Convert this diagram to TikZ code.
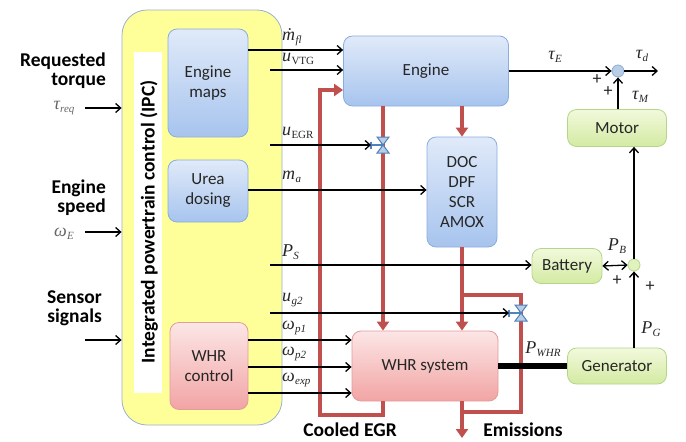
\documentclass[tikz,border=0pt]{standalone}
\usepackage{fontspec}
\setmainfont{Carlito}
\newfontfamily\lserif{Liberation Serif}
\usetikzlibrary{arrows.meta}
\newcommand\svi[2]{{\lserif\itshape #1}\kern0.3pt\raisebox{-3.5pt}{\lserif\itshape\fontsize{11}{11}\selectfont #2}}
\newcommand\svu[2]{{\lserif\itshape #1}\kern0.3pt\raisebox{-3.5pt}{\lserif\fontsize{11}{11}\selectfont #2}}
\definecolor{ipcfill}{HTML}{FFFF99}
\definecolor{ipcedge}{HTML}{9BB0CF}
\definecolor{btop}{HTML}{E0EAF9}
\definecolor{bbot}{HTML}{A7C4EE}
\definecolor{bedge}{HTML}{8AAEDC}
\definecolor{rtop}{HTML}{FCE6E6}
\definecolor{rbot}{HTML}{F2A4A4}
\definecolor{redge}{HTML}{E39B9B}
\definecolor{gtop}{HTML}{F2F9DC}
\definecolor{gbot}{HTML}{D3EAA2}
\definecolor{gedge}{HTML}{B5D68A}
\definecolor{pipered}{HTML}{C0504D}
\definecolor{vblue}{HTML}{4F81BD}
\definecolor{vfill}{HTML}{B9CDE5}
\definecolor{txt}{HTML}{262626}
\tikzset{
  box/.style={rounded corners=9pt, line width=0.8pt, inner sep=0pt, align=center,
    font=\fontsize{17}{20}\selectfont, text=txt},
  bluebox/.style={box, draw=bedge, top color=btop, bottom color=bbot},
  redbox/.style={box, draw=redge, top color=rtop, bottom color=rbot},
  greenbox/.style={box, draw=gedge, top color=gtop, bottom color=gbot},
  sig/.style={line width=1.3pt, draw=black, -{Straight Barb[length=5pt,width=9pt]}},
  pipe/.style={line width=4.5pt, draw=pipered},
  pipea/.style={pipe, -{Triangle[length=9pt,width=12pt]}},
  lab/.style={font=\fontsize{18}{18}\selectfont, text=txt, inner sep=0pt},
  boldlab/.style={font=\bfseries\fontsize{19.5}{19}\selectfont, text=black, inner sep=0pt},
  junction/.style={circle, minimum size=12pt, inner sep=0pt, line width=0.8pt},
  valve/.pic={
    \draw[vblue, line width=1.5pt] (-12,0) -- (0,0);
    \draw[vblue, line width=1.5pt] (-12,-3.5) -- (-12,3.5);
    \draw[draw=vblue, fill=vfill, line width=1pt, line join=miter]
      (-6,-8) -- (6,-8) -- (-6,8) -- (6,8) -- cycle;
  }
}
\begin{document}
\begin{tikzpicture}[x=1pt,y=-1pt]
\useasboundingbox (0,0) rectangle (686,442);

% IPC container
\node[draw=ipcedge, fill=ipcfill, rounded corners=25pt, line width=0.8pt,
  minimum width=160pt, minimum height=415pt, inner sep=0pt] (ipc) at (202,217.5) {};
\node[fill=white, minimum width=28pt, minimum height=341pt, inner sep=0pt] (strip) at (148,222) {};
\node[boldlab, rotate=90] (ipctext) at (149,222) {Integrated powertrain control (IPC)};

% blocks
\node[bluebox, minimum width=80pt, minimum height=108pt] (maps) at (208,83) {Engine\\maps};
\node[bluebox, minimum width=80pt, minimum height=62pt] (urea) at (208,191) {Urea\\dosing};
\node[redbox, minimum width=78pt, minimum height=87pt] (whrc) at (209,366) {WHR\\control};
\node[bluebox, minimum width=165pt, minimum height=70pt] (engine) at (426,71) {Engine};
\node[bluebox, minimum width=70pt, minimum height=110pt] (doc) at (462,192) {DOC\\DPF\\SCR\\AMOX};
\node[redbox, minimum width=146pt, minimum height=70pt] (whrs) at (425,366) {WHR system};
\node[greenbox, minimum width=99pt, minimum height=37pt] (motor) at (617,128) {Motor};
\node[greenbox, minimum width=70pt, minimum height=35pt] (battery) at (567,266) {Battery};
\node[greenbox, minimum width=99pt, minimum height=36pt] (gen) at (617,366) {Generator};

\node[junction, draw=bedge, fill=vfill] (tj) at (618,71) {};
\node[junction, draw=gedge, fill=gtop!50!gbot] (bj) at (634,265) {};

% red pipes
\coordinate (egrx) at (383,0);
\draw[pipea] (engine.south -| egrx) -- (whrs.north -| egrx);
\draw[pipea, line join=miter] (whrs.south -| egrx) -- (383,415) -- (320,415) -- (320,90) -- (engine.west |- 0,90);
\draw[pipea] (doc.north |- engine.south) -- (doc.north);
\draw[pipea] (doc.south) -- (whrs.north -| doc.south);
\coordinate (bypa) at (462,295);
\coordinate (bypb) at (462,412);
\draw[pipe, line join=miter] (bypa) -- (521,295) -- (521,412) -- (bypb);
\coordinate (emis) at (462,438);
\draw[pipea] (whrs.south -| emis) -- (emis);

% valves
\coordinate (v1) at (383,145);
\coordinate (v2) at (521,313);
\pic at (v1) {valve};
\pic at (v2) {valve};
\coordinate (v1in) at (371,145);
\coordinate (v2in) at (509,313);

% inputs to IPC
\coordinate (in1) at (85,108);
\coordinate (in2) at (85,232);
\coordinate (in3) at (85,340);
\draw[sig] (in1) -- (ipc.west |- in1);
\draw[sig] (in2) -- (ipc.west |- in2);
\draw[sig] (in3) -- (ipc.west |- in3);

% signals from IPC
\coordinate (o2) at (270,70);
\coordinate (o3) at (270,145);
\coordinate (o5) at (270,265);
\coordinate (o6) at (270,313);
\draw[sig] (maps.east |- 0,50) -- (engine.west |- 0,50);
\draw[sig] (o2) -- (engine.west |- o2);
\draw[sig] (o3) -- (v1in);
\draw[sig] (urea.east |- 0,190) -- (doc.west |- 0,190);
\draw[sig] (o5) -- (battery.west |- o5);
\draw[sig] (o6) -- (v2in);
\draw[sig] (whrc.east |- 0,340) -- (whrs.west |- 0,340);
\draw[sig] (whrc.east |- 0,367) -- (whrs.west |- 0,367);
\draw[sig] (whrc.east |- 0,393) -- (whrs.west |- 0,393);

% drivetrain
\coordinate (td) at (658,71);
\draw[sig] (engine.east |- tj) -- (tj.west);
\draw[sig] (tj.east) -- (td);
\draw[sig] (motor.north -| tj) -- (tj.south);
\draw[sig] (bj.north) -- (motor.south -| bj);
\draw[sig, {Straight Barb[length=5pt,width=9pt]}-{Straight Barb[length=5pt,width=9pt]}] (battery.east) -- (bj.west);
\draw[sig] (gen.north -| bj) -- (bj.south);
\draw[line width=6pt] (whrs.east) -- (gen.west);

% labels
\node[boldlab, align=right, anchor=east] (l1) at (106,71) {Requested\\torque};
\node[boldlab, align=right, anchor=east] (l2) at (106,198) {Engine\\speed};
\node[boldlab, align=right, anchor=east] (l3) at (102,308) {Sensor\\signals};
\node[lab, text=black!60] (treq) at (64,108) {\svi{τ}{req}};
\node[lab, text=black!60] (wE) at (64,234) {\svi{ω}{E}};
\node[lab, anchor=west] (a1) at (282,37) {\svi{ṁ}{fl}};
\node[lab, anchor=west] (a2) at (282,59) {\svu{u}{VTG}};
\node[lab, anchor=west] (a3) at (282,133) {\svu{u}{EGR}};
\node[lab, anchor=west] (a4) at (282,177) {\svi{m}{a}};
\node[lab, anchor=west] (a5) at (282,252) {\svi{P}{S}};
\node[lab, anchor=west] (a6) at (282,300) {\svi{u}{g2}};
\node[lab, anchor=west] (a7) at (282,328) {\svi{ω}{p1}};
\node[lab, anchor=west] (a8) at (282,354) {\svi{ω}{p2}};
\node[lab, anchor=west] (a9) at (282,380) {\svi{ω}{exp}};
\node[lab] (tE) at (555,57) {\svi{τ}{E}};
\node[lab] (tD) at (642,56) {\svi{τ}{d}};
\node[lab] (tM) at (640,97) {\svi{τ}{M}};
\node[lab] (p1) at (597,80) {+};
\node[lab] (p2) at (608,92) {+};
\node[lab] (pB) at (617,246) {\svi{P}{B}};
\node[lab] (p3) at (617,281) {+};
\node[lab] (p4) at (650,287) {+};
\node[lab] (pG) at (651,329) {\svi{P}{G}};
\node[lab] (pW) at (543,349) {\svi{P}{WHR}};
\node[boldlab] (cegr) at (350,430) {Cooled EGR};
\node[boldlab] (emt) at (523,430) {Emissions};
\end{tikzpicture}
\end{document}
